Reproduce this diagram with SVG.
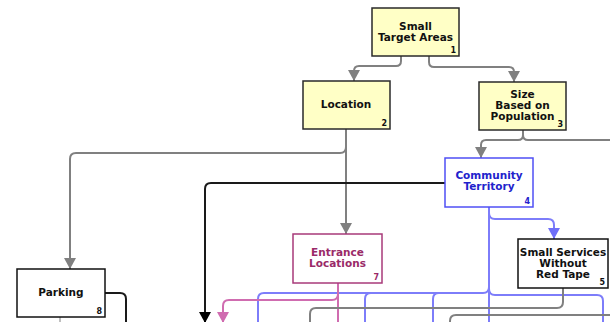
<svg xmlns="http://www.w3.org/2000/svg" width="610" height="322" viewBox="0 0 610 322">
<defs>
<style>
.box{stroke-width:1.5}
.yel{fill:#ffffc6;stroke:#2a2a2a}
.wht{fill:#ffffff;stroke:#111}
.blu{fill:#ffffff;stroke:#4f4ff5}
.pnk{fill:#ffffff;stroke:#a83a7a}
.t{font-family:"DejaVu Sans",Verdana,sans-serif;font-weight:bold;font-size:10.5px;text-anchor:middle;fill:#111}
.n{font-family:"DejaVu Sans",Verdana,sans-serif;font-weight:bold;font-size:8px;text-anchor:end;fill:#111}
.tb{fill:#2222cc}
.tp{fill:#9a2a68}
.c{fill:none;stroke-width:2}
.g{stroke:#808080}
.k{stroke:#1a1a1a}
.b{stroke:#7d7dfa}
.p{stroke:#d06cb0}
</style>
<marker id="ag" markerUnits="userSpaceOnUse" markerWidth="12" markerHeight="11" refX="6" refY="11" viewBox="0 0 12 11"><path d="M0,0 L12,0 L6,11 Z" fill="#808080"/></marker>
<marker id="ak" markerUnits="userSpaceOnUse" markerWidth="12" markerHeight="11" refX="6" refY="11" viewBox="0 0 12 11"><path d="M0,0 L12,0 L6,11 Z" fill="#000"/></marker>
<marker id="ab" markerUnits="userSpaceOnUse" markerWidth="12" markerHeight="11" refX="6" refY="11" viewBox="0 0 12 11"><path d="M0,0 L12,0 L6,11 Z" fill="#6f6ff8"/></marker>
<marker id="ap" markerUnits="userSpaceOnUse" markerWidth="12" markerHeight="11" refX="6" refY="11" viewBox="0 0 12 11"><path d="M0,0 L12,0 L6,11 Z" fill="#d06cb0"/></marker>
</defs>
<rect width="610" height="322" fill="#ffffff"/>
<g id="connectors">
<path class="c g" d="M401,56 V61 Q401,66 396,66 H359 Q354,66 354,71 V81" marker-end="url(#ag)"/>
<path class="c g" d="M429,56 V62 Q429,67 434,67 H509 Q514,67 514,72 V82" marker-end="url(#ag)"/>
<path class="c g" d="M523,130 V135 Q523,140 518,140 H486 Q481,140 481,145 V158" marker-end="url(#ag)"/>
<path class="c g" d="M523,135 Q523,140 528,140 H610"/>
<path class="c g" d="M346,129 V234" marker-end="url(#ag)"/>
<path class="c g" d="M346,129 V147 Q346,153 340,153 H76 Q70,153 70,159 V269" marker-end="url(#ag)"/>
<path class="c k" d="M445,183 H211 Q205,183 205,189 V323" marker-end="url(#ak)"/>
<path class="c b" d="M489,207 V213 Q489,219 495,219 H548 Q554,219 554,225 V239" marker-end="url(#ab)"/>
<path class="c b" d="M489,207 V322"/>
<path class="c b" d="M489,287 Q489,293 483,293 H264 Q258,293 258,299 V322"/>
<path class="c b" d="M371,293 Q365,293 365,299 V322"/>
<path class="c b" d="M439,293 Q433,293 433,299 V322"/>
<path class="c b" d="M489,289 Q489,295 495,295 H597 Q603,295 603,301 V322"/>
<path class="c p" d="M338,283 V322"/>
<path class="c p" d="M338,294 Q338,300 332,300 H229 Q223,300 223,306 V323" marker-end="url(#ap)"/>
<path class="c g" d="M563,288 V302 Q563,308 557,308 H316 Q310,308 310,314 V322"/>
<path class="c g" d="M610,315 H456 Q450,315 450,321 V322"/>
<path class="c k" d="M105,293 H120 Q126,293 126,299 V322"/>
<path class="c g" d="M60,317 V322" style="stroke-width:1"/>
</g>
<g id="node1">
<rect class="box yel" x="372" y="8" width="87" height="48"/>
<text class="t" x="415.5" y="30">Small</text>
<text class="t" x="415.5" y="41">Target Areas</text>
<text class="n" x="456" y="53">1</text>
</g>
<g id="node2">
<rect class="box yel" x="303" y="81" width="87" height="48"/>
<text class="t" x="346" y="108">Location</text>
<text class="n" x="387" y="126">2</text>
</g>
<g id="node3">
<rect class="box yel" x="479" y="82" width="87" height="48"/>
<text class="t" x="522.5" y="98">Size</text>
<text class="t" x="522.5" y="109">Based on</text>
<text class="t" x="522.5" y="120">Population</text>
<text class="n" x="563" y="127">3</text>
</g>
<g id="node4">
<rect class="box blu" x="445" y="158" width="88" height="49"/>
<text class="t tb" x="489" y="179">Community</text>
<text class="t tb" x="489" y="190">Territory</text>
<text class="n tb" x="530" y="204">4</text>
</g>
<g id="node5">
<rect class="box wht" x="518" y="239" width="90" height="49"/>
<text class="t" x="563" y="256">Small Services</text>
<text class="t" x="563" y="267">Without</text>
<text class="t" x="563" y="278">Red Tape</text>
<text class="n" x="605" y="285">5</text>
</g>
<g id="node7">
<rect class="box pnk" x="293" y="234" width="89" height="49"/>
<text class="t tp" x="337.5" y="256">Entrance</text>
<text class="t tp" x="337.5" y="267">Locations</text>
<text class="n tp" x="379" y="280">7</text>
</g>
<g id="node8">
<rect class="box wht" x="17" y="269" width="88" height="48"/>
<text class="t" x="61" y="296">Parking</text>
<text class="n" x="102" y="314">8</text>
</g>
</svg>
